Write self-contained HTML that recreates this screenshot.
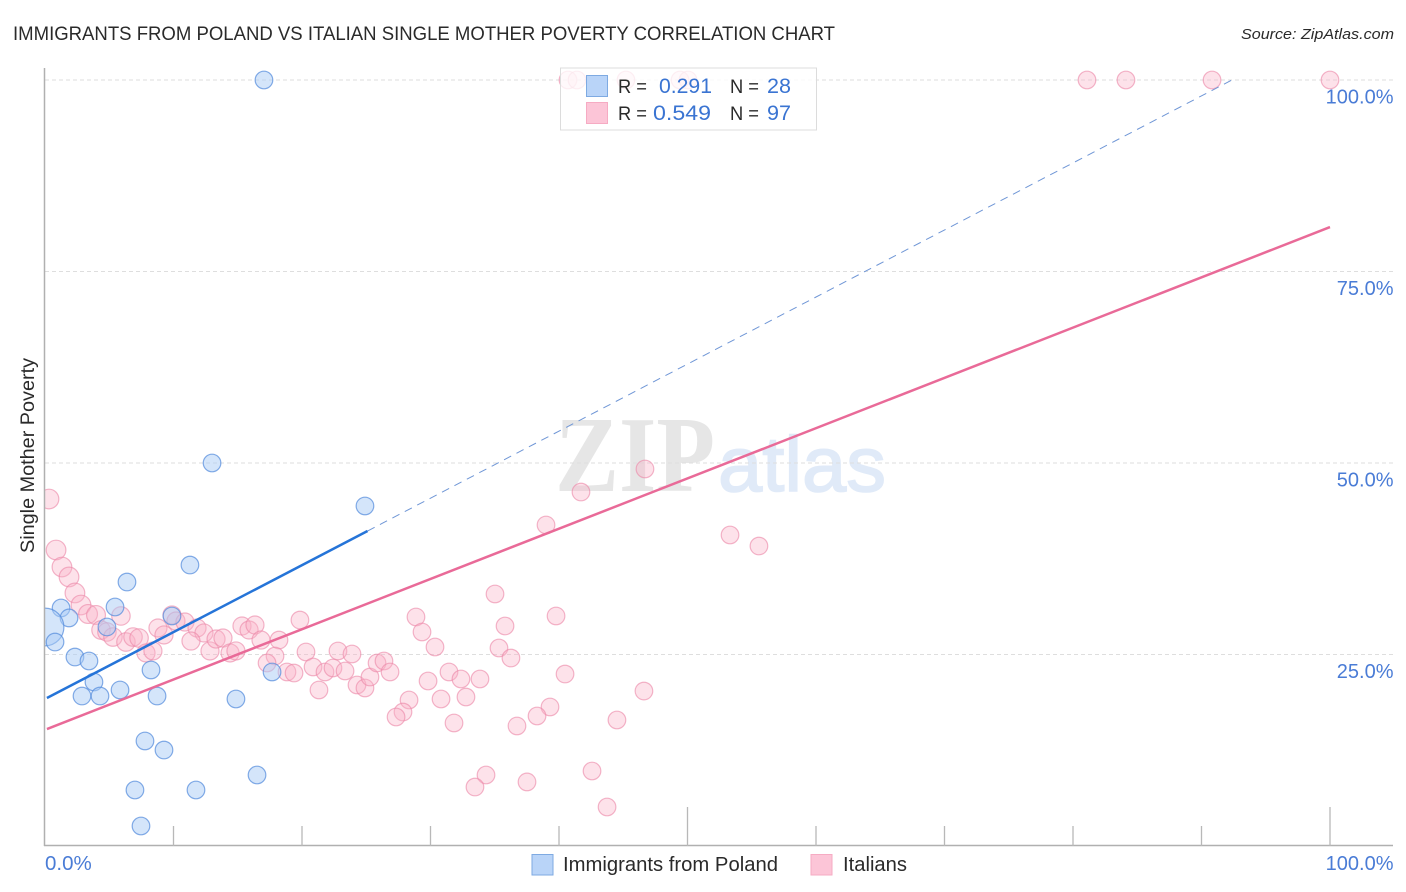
<!DOCTYPE html>
<html lang="en">
<head>
<meta charset="utf-8">
<title>Immigrants from Poland vs Italian Single Mother Poverty Correlation Chart</title>
<style>
html,body{margin:0;padding:0;background:#fff;}
svg{display:block;font-family:"Liberation Sans",sans-serif;}
</style>
</head>
<body>
<svg id="chart" xmlns="http://www.w3.org/2000/svg" width="1406" height="892" viewBox="0 0 1406 892">
  <defs>
    <clipPath id="plot-clip"><rect x="45" y="0" width="1361" height="846"/></clipPath>
  </defs>
  <rect x="0" y="0" width="1406" height="892" fill="#fff"/>
  <text x="13" y="40" font-size="19.5" fill="#2a2a2a" textLength="822" lengthAdjust="spacingAndGlyphs">IMMIGRANTS FROM POLAND VS ITALIAN SINGLE MOTHER POVERTY CORRELATION CHART</text>
  <text x="1241" y="39" font-size="15" font-style="italic" fill="#2a2a2a" textLength="153" lengthAdjust="spacingAndGlyphs">Source: ZipAtlas.com</text>

  <g>
    <text x="555" y="491" font-family="'Liberation Serif',serif" font-weight="bold" font-size="108" fill="#e6e6e6" textLength="160" lengthAdjust="spacingAndGlyphs">ZIP</text>
    <text x="718" y="491" style="font-family:'Liberation Sans',sans-serif" font-size="78" fill="#e0eaf8" stroke="#e0eaf8" stroke-width="1.6" textLength="168" lengthAdjust="spacingAndGlyphs">atlas</text>
  </g>

  <g id="grid"></g>
  <g id="pink-points" clip-path="url(#plot-clip)"></g>
  <g id="blue-points" clip-path="url(#plot-clip)"></g>
  <g id="trends"></g>
  <g id="axes"></g>
  <g id="tick-labels"></g>

  <text transform="translate(34,553) rotate(-90)" font-size="19" fill="#2a2a2a" textLength="195" lengthAdjust="spacingAndGlyphs">Single Mother Poverty</text>

  <g>
    <rect x="560.5" y="68" width="256" height="62" fill="#fff" fill-opacity="0.78" stroke="#dcdcdc" stroke-width="1"/>
    <rect x="586.5" y="75.5" width="21" height="21" fill="#b9d4f8" stroke="#7eaae2"/>
    <rect x="586.5" y="102.5" width="21" height="21" fill="#fcc5d7" stroke="#f6abc3"/>
    <text x="618" y="93" font-size="19.5" fill="#2a2a2a" textLength="29" lengthAdjust="spacingAndGlyphs">R =</text>
    <text x="659" y="93" font-size="21" fill="#3a74d2" textLength="53" lengthAdjust="spacingAndGlyphs">0.291</text>
    <text x="730" y="93" font-size="19.5" fill="#2a2a2a" textLength="29" lengthAdjust="spacingAndGlyphs">N =</text>
    <text x="767" y="93" font-size="21" fill="#3a74d2" textLength="24" lengthAdjust="spacingAndGlyphs">28</text>
    <text x="618" y="120" font-size="19.5" fill="#2a2a2a" textLength="29" lengthAdjust="spacingAndGlyphs">R =</text>
    <text x="653" y="120" font-size="21" fill="#3a74d2" textLength="58" lengthAdjust="spacingAndGlyphs">0.549</text>
    <text x="730" y="120" font-size="19.5" fill="#2a2a2a" textLength="29" lengthAdjust="spacingAndGlyphs">N =</text>
    <text x="767" y="120" font-size="21" fill="#3a74d2" textLength="24" lengthAdjust="spacingAndGlyphs">97</text>
  </g>

  <g>
    <rect x="532" y="854.5" width="21" height="20.5" fill="#b9d4f8" stroke="#7eaae2"/>
    <text x="563" y="871" font-size="20" fill="#2a2a2a" textLength="215" lengthAdjust="spacingAndGlyphs">Immigrants from Poland</text>
    <rect x="811" y="854.5" width="21" height="20.5" fill="#fcc5d7" stroke="#f6abc3"/>
    <text x="843" y="871" font-size="20" fill="#2a2a2a" textLength="64" lengthAdjust="spacingAndGlyphs">Italians</text>
  </g>
</svg>
<script>
const yTickValues = [100, 75, 50, 25];
const yTickLabels = ["100.0%", "75.0%", "50.0%", "25.0%"];
const xTickValues = [10, 20, 30, 40, 50, 60, 70, 80, 90, 100];
const xMajorTicks = [50, 100];
const xEndValues = [0, 100];
const xEndLabels = ["0.0%", "100.0%"];

const bluePointX = [17.04,13.0,24.9,11.28,6.38,1.25,5.45,1.87,0,0.78,9.88,4.82,2.33,3.42,8.25,17.67,3.81,5.84,2.88,4.28,8.72,14.86,7.78,9.26,16.5,7.0,11.75,7.47];
const bluePointY = [100,50,44.39,36.68,34.46,31.07,31.2,29.77,28.59,26.63,30.03,28.59,24.67,24.15,22.98,22.72,21.41,20.37,19.58,19.58,19.58,19.19,13.71,12.53,9.27,7.31,7.31,2.61];
const blueWeights = [1,1,1,1,1,1,1,1,4.6,1,1,1,1,1,1,1,1,1,1,1,1,1,1,1,1,1,1,1];

const pinkPointX = [0.31,0.86,1.32,1.87,2.33,2.8,3.35,3.97,4.36,4.82,5.29,5.91,6.3,6.85,7.32,7.86,8.4,8.79,9.26,9.88,10.19,10.89,11.83,12.37,11.36,12.84,13.31,13.85,14.4,14.86,15.33,15.88,16.34,16.81,18.21,17.9,17.28,18.83,19.38,19.84,20.31,20.86,21.32,21.79,22.41,22.8,23.35,23.89,24.28,24.9,25.29,25.84,26.38,26.85,28.33,27.86,27.32,28.87,29.34,30.35,29.81,31.44,32.37,33.85,30.82,32.76,31.83,35.02,35.8,35.33,36.26,39.77,40.47,39.3,38.29,36.73,46.61,44.51,34.32,33.46,37.51,42.57,43.74,38.99,41.71,46.69,53.31,55.56,40.7,41.4,45.21,49.42,50.04,81.09,84.12,90.82,100];
const pinkPointY = [45.3,38.64,36.42,35.12,33.03,31.46,30.29,30.16,28.2,27.94,27.28,30.03,26.63,27.28,27.15,25.2,25.46,28.46,27.55,30.16,29.37,29.24,28.46,27.81,26.76,25.46,27.02,27.15,25.2,25.46,28.72,28.2,28.85,26.89,26.89,24.8,23.89,22.72,22.58,29.5,25.33,23.37,20.37,22.72,23.24,25.46,22.85,25.07,21.02,20.63,22.06,23.89,24.15,22.72,19.06,17.49,16.84,29.9,27.94,25.98,21.54,22.72,21.8,21.8,19.19,19.45,16.06,32.9,28.72,25.85,24.54,30.03,22.45,18.15,16.97,15.67,20.23,16.45,9.27,7.7,8.36,9.79,5.09,41.91,46.21,49.22,40.6,39.16,100,100,100,100,100,100,100,100,100];
const pinkWeights = [1.25,1.25,1.25,1.25,1.25,1.25,1.15,1.15,1.1,1.1,1.1,1.1,1.1,1.1,1.1,1.05,1.05,1.05,1.05,1.05,1.05,1.05,1.05,1.05,1.05,1.05,1.05,1.05,1.05,1.05,1.05,1.05,1.05,1.05,1,1,1,1,1,1,1,1,1,1,1,1,1,1,1,1,1,1,1,1,1,1,1,1,1,1,1,1,1,1,1,1,1,1,1,1,1,1,1,1,1,1,1,1,1,1,1,1,1,1,1,1,1,1,1,1,1,1,1,1,1,1,1];

const blueSolidX = [0.15, 25.1];
const blueSolidY = [19.32, 41.12];
const blueDashX = [25.1, 92.37];
const blueDashY = [41.12, 100];
const pinkSolidX = [0.15, 100];
const pinkSolidY = [15.27, 80.8];

const NS = "http://www.w3.org/2000/svg";
function xScale(v) { return 45 + v * 12.85; }
function yScale(v) { return 846 - v * 7.66; }
function make(tag, attrs, parent) {
  const el = document.createElementNS(NS, tag);
  for (const k in attrs) el.setAttribute(k, attrs[k]);
  parent.appendChild(el);
  return el;
}

const gridG = document.getElementById("grid");
yTickValues.forEach(function (v) {
  const line = make("line", {x1: 45, x2: 1393, y1: yScale(v), y2: yScale(v), stroke: "#dedede", "stroke-width": 1, "stroke-dasharray": "4 3"}, gridG);
  
  
});

const BASE_R = 8.8;
const pinkG = document.getElementById("pink-points");
pinkPointX.forEach(function (v, i) {
  const c = make("circle", {cx: xScale(v), cy: yScale(pinkPointY[i]), r: BASE_R * Math.sqrt(pinkWeights[i]), fill: "rgba(250,180,200,0.38)", stroke: "rgba(236,135,168,0.62)", "stroke-width": 1.2}, pinkG);
  
  
});
const blueG = document.getElementById("blue-points");
bluePointX.forEach(function (v, i) {
  const c = make("circle", {cx: xScale(v), cy: yScale(bluePointY[i]), r: BASE_R * Math.sqrt(blueWeights[i]), fill: "rgba(170,204,246,0.5)", stroke: "rgba(85,140,220,0.72)", "stroke-width": 1.2}, blueG);
  
  
});

const trendG = document.getElementById("trends");
const blueDash = make("line", {x1: xScale(blueDashX[0]), y1: yScale(blueDashY[0]), x2: xScale(blueDashX[1]), y2: yScale(blueDashY[1]), stroke: "#6f96d6", "stroke-width": 1, "stroke-dasharray": "8 6"}, trendG);


const blueSolid = make("line", {x1: xScale(blueSolidX[0]), y1: yScale(blueSolidY[0]), x2: xScale(blueSolidX[1]), y2: yScale(blueSolidY[1]), stroke: "#2574d8", "stroke-width": 2.5}, trendG);


const pinkSolid = make("line", {x1: xScale(pinkSolidX[0]), y1: yScale(pinkSolidY[0]), x2: xScale(pinkSolidX[1]), y2: yScale(pinkSolidY[1]), stroke: "#e96a98", "stroke-width": 2.5}, trendG);



const axesG = document.getElementById("axes");
const yAxis = make("line", {x1: 44.5, x2: 44.5, y1: 68, y2: 846, stroke: "#b0b0b0", "stroke-width": 1.5}, axesG);


const xAxis = make("line", {x1: 44, x2: 1393, y1: 845.5, y2: 845.5, stroke: "#b0b0b0", "stroke-width": 1.5}, axesG);


xTickValues.forEach(function (v) {
  const top = xMajorTicks.indexOf(v) >= 0 ? 807 : 826;
  const t = make("line", {x1: xScale(v), x2: xScale(v), y1: top, y2: 846, stroke: "#b8b8b8", "stroke-width": 1.3}, axesG);
  
  
});

const labelG = document.getElementById("tick-labels");
yTickLabels.forEach(function (s, i) {
  const t = make("text", {x: 1393.5, y: yScale(yTickValues[i]) + 23.5, "text-anchor": "end", "font-size": 20, fill: "#4a7cd6"}, labelG);
  t.textContent = s;
  
  
});
xEndLabels.forEach(function (s, i) {
  const anchorEnd = xEndValues[i] === 100;
  const t = make("text", {x: anchorEnd ? 1393.5 : xScale(xEndValues[i]), y: 870, "text-anchor": anchorEnd ? "end" : "start", "font-size": anchorEnd ? 20 : 20.5, fill: "#4a7cd6"}, labelG);
  t.textContent = s;
  
  
});
</script>
</body>
</html>
